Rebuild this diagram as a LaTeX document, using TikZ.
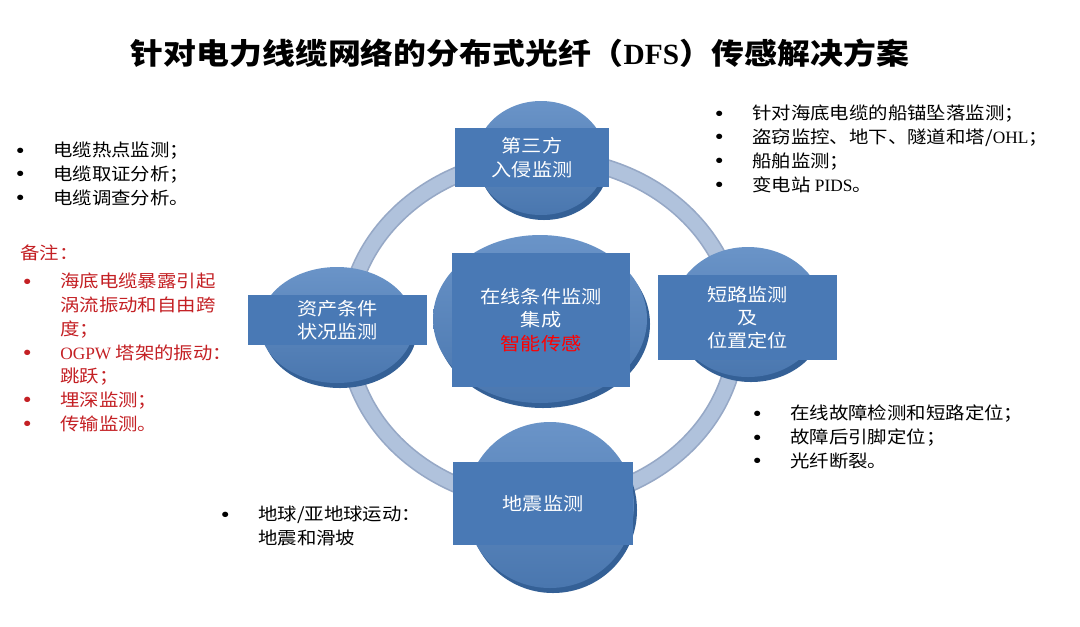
\documentclass[tikz,border=0pt]{standalone}
\usepackage{xcolor}
\usepackage{fontspec}
\setmainfont{Noto Sans CJK SC}[FakeStretch=1.12]
\newfontfamily\enfont{Liberation Serif}
\usepackage{tikz}
\usetikzlibrary{positioning,calc}

\definecolor{panelblue}{RGB}{73,121,181}
\definecolor{diskblue}{RGB}{80,129,190}
\definecolor{diskdark}{RGB}{52,96,150}
\definecolor{ringblue}{RGB}{176,194,220}
\definecolor{ringedge}{RGB}{150,168,198}
\definecolor{notered}{RGB}{196,32,36}

\newcommand{\bul}{\llap{\raisebox{-2.5pt}{\fontsize{19}{19}\selectfont\textbullet}\hspace{14pt}}}
\newcommand{\en}[1]{{\enfont #1}}

\begin{document}
\begin{tikzpicture}[x=0.75pt,y=-0.75pt,
  panel/.style={fill=panelblue, text=white, align=center, inner sep=0pt, font=\fontsize{13.5}{17.5}\selectfont},
  disk/.style={top color=diskblue!85!white, bottom color=diskblue!92!black},
  rim/.style={fill=diskdark},
  list/.style={anchor=north west, align=left, inner sep=0pt, font=\fontsize{13}{17.8}\selectfont}]
\fill[white] (0,0) rectangle (1080,626);
\useasboundingbox (0,0) rectangle (1080,626);

% Title
\node[font=\fontsize{22}{25}\selectfont\bfseries] (title) at (520,53) {针对电力线缆网络的分布式光纤（\en{DFS}）传感解决方案};

% Ring
\draw[ringedge, line width=13pt] (542,330) ellipse [x radius=195, y radius=172];
\draw[ringblue, line width=10.5pt] (542,330) ellipse [x radius=195, y radius=172];

% Disks
\fill[rim] (544,163) ellipse [x radius=65, y radius=57];
\shade[disk] (541,158) ellipse [x radius=65, y radius=57];
\fill[rim] (340,330) ellipse [x radius=77, y radius=58];
\shade[disk] (337,325) ellipse [x radius=77, y radius=58];
\fill[rim] (543,324) ellipse [x radius=107, y radius=84];
\shade[disk] (540,319) ellipse [x radius=107, y radius=84];
\fill[rim] (751,317) ellipse [x radius=75, y radius=65];
\shade[disk] (748,312) ellipse [x radius=75, y radius=65];
\fill[rim] (553,510) ellipse [x radius=84, y radius=83];
\shade[disk] (550,505) ellipse [x radius=84, y radius=83];

% Panels
\node[panel, minimum width=115.5pt, minimum height=44.25pt] (ptop) at (532,157.5) {第三方\\入侵监测};
\node[panel, minimum width=134.25pt, minimum height=37.5pt] (passet) at (337.5,320) {资产条件\\状况监测};
\node[panel, minimum width=133.5pt, minimum height=100.5pt] (pcore) at (541,320) {在线条件监测\\集成\\\textcolor{red}{智能传感}};
\node[panel, minimum width=134.25pt, minimum height=63.75pt] (pshort) at (747.5,317.5) {短路监测\\及\\位置定位};
\node[panel, minimum width=135pt, minimum height=62.25pt] (pquake) at (543,503.5) {地震监测};

% Lists
\node[list] (hotlist) at (53,142) {\bul 电缆热点监测；\\ \bul 电缆取证分析；\\ \bul 电缆调查分析。};
\node[list, text=notered] (notehead) at (20,245) {备注：};
\node[list, text=notered] (notelist) at (60,273) {\bul 海底电缆暴露引起\\ 涡流振动和自由跨\\ 度；\\ \bul \en{OGPW} 塔架的振动：\\ 跳跃；\\ \bul 埋深监测；\\ \bul 传输监测。};
\node[list] (intrlist) at (752,105) {\bul 针对海底电缆的船锚坠落监测；\\ \bul 盗窃监控、地下、隧道和塔/\en{OHL}；\\ \bul 船舶监测；\\ \bul 变电站 \en{PIDS}。};
\node[list] (faultlist) at (790,405) {\bul 在线故障检测和短路定位；\\ \bul 故障后引脚定位；\\ \bul 光纤断裂。};
\node[list] (quakelist) at (258,506) {\bul 地球/亚地球运动：\\ 地震和滑坡};
\end{tikzpicture}
\end{document}
